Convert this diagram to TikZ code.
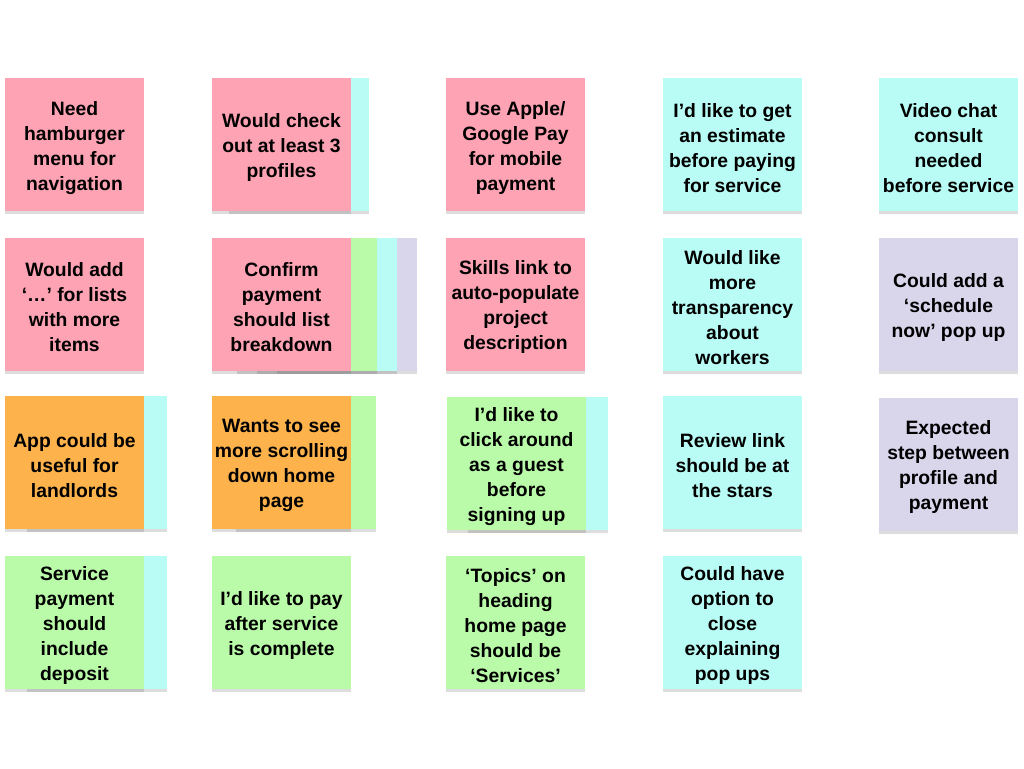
\documentclass[tikz,border=0pt]{standalone}
\usepackage{fontspec}
\setmainfont{Liberation Sans}
\usetikzlibrary{shadows}
\definecolor{npink}{HTML}{FEA3B3}
\definecolor{ncyan}{HTML}{B9FCF5}
\definecolor{ngreen}{HTML}{BAFBA9}
\definecolor{norange}{HTML}{FDB24B}
\definecolor{nlav}{HTML}{D9D6EC}
\tikzset{
  note/.style={rectangle, minimum width=104.5pt, minimum height=99.75pt, inner sep=0pt,
    drop shadow={shadow xshift=0pt, shadow yshift=-2.5pt, opacity=0.22, fill=black!60}},
  notetext/.style={align=center, inner sep=0pt, font=\fontsize{14.5}{18.75}\selectfont\bfseries, text=black},
  pinknote/.style={note, fill=npink},
  cyannote/.style={note, fill=ncyan},
  greennote/.style={note, fill=ngreen},
  orangenote/.style={note, fill=norange},
  lavnote/.style={note, fill=nlav},
}
\newcommand\stickynote[4]{%
  \node[#1] (#2) at #3 {};
  \node[notetext] (#2t) at ([yshift=-2.6pt]#2.center) {#4};}
\begin{document}
\begin{tikzpicture}[x=0.75pt, y=-0.75pt]
\useasboundingbox[fill=white] (0,0) rectangle (1024,768);
% Row 1
\stickynote{pinknote}{r1c1}{(74.5,144.5)}{Need\\hamburger\\menu for\\navigation}
\node[cyannote] (r1c2b) at (299,144.5) {};
\stickynote{pinknote}{r1c2}{(281.5,144.5)}{Would check\\out at least 3\\profiles}
\stickynote{pinknote}{r1c3}{(515.5,144.5)}{Use Apple/\\Google Pay\\for mobile\\payment}
\stickynote{cyannote}{r1c4}{(732.5,144.5)}{I’d like to get\\an estimate\\before paying\\for service}
\stickynote{cyannote}{r1c5}{(948.5,144.5)}{Video chat\\consult\\needed\\before service}
% Row 2
\stickynote{pinknote}{r2c1}{(74.5,304)}{Would add\\‘…’ for lists\\with more\\items}
\node[lavnote] (r2c2d) at (347,304) {};
\node[cyannote] (r2c2c) at (327,304) {};
\node[greennote] (r2c2b) at (307,304) {};
\stickynote{pinknote}{r2c2}{(281.5,304)}{Confirm\\payment\\should list\\breakdown}
\stickynote{pinknote}{r2c3}{(515.5,304)}{Skills link to\\auto-populate\\project\\description}
\stickynote{cyannote}{r2c4}{(732.5,304)}{Would like\\more\\transparency\\about\\workers}
\stickynote{lavnote}{r2c5}{(948.5,304)}{Could add a\\‘schedule\\now’ pop up}
% Row 3
\node[cyannote] (r3c1b) at (97,462) {};
\stickynote{orangenote}{r3c1}{(74.5,462)}{App could be\\useful for\\landlords}
\node[greennote] (r3c2b) at (306,462) {};
\stickynote{orangenote}{r3c2}{(281.5,462)}{Wants to see\\more scrolling\\down home\\page}
\node[cyannote] (r3c3b) at (538,463) {};
\stickynote{greennote}{r3c3}{(516.5,463)}{I’d like to\\click around\\as a guest\\before\\signing up}
\stickynote{cyannote}{r3c4}{(732.5,462)}{Review link\\should be at\\the stars}
\stickynote{lavnote}{r3c5}{(948.5,464)}{Expected\\step between\\profile and\\payment}
% Row 4
\node[cyannote] (r4c1b) at (97,622.5) {};
\stickynote{greennote}{r4c1}{(74.5,622.5)}{Service\\payment\\should\\include\\deposit}
\stickynote{greennote}{r4c2}{(281.5,622.5)}{I’d like to pay\\after service\\is complete}
\stickynote{greennote}{r4c3}{(515.5,622.5)}{‘Topics’ on\\heading\\home page\\should be\\‘Services’}
\stickynote{cyannote}{r4c4}{(732.5,622.5)}{Could have\\option to\\close\\explaining\\pop ups}
\end{tikzpicture}
\end{document}
